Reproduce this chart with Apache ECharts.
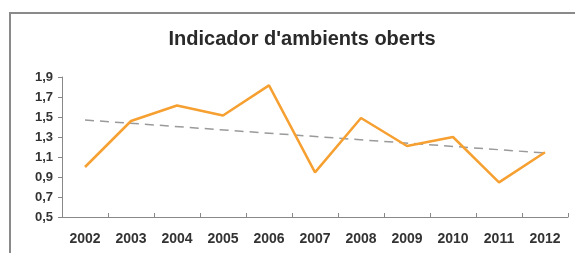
<!DOCTYPE html>
<html>
<head>
<meta charset="utf-8">
<script src="https://cdn.jsdelivr.net/npm/echarts@6/dist/echarts.min.js"></script>
<style>
  html, body { margin: 0; padding: 0; background: #fff; }
  #chart { width: 575px; height: 253px; }
</style>
</head>
<body>
<div id="chart"></div>
<script>
// anys
var years = ['2002', '2003', '2004', '2005', '2006', '2007', '2008', '2009', '2010', '2011', '2012'];
// valors de l'indicador
var indicador = [1.0, 1.46, 1.615, 1.515, 1.816, 0.946, 1.49, 1.21, 1.30, 0.846, 1.147];
// línia de tendència (extrems llegits del gràfic)
var tendencia = [['2002', 1.47], ['2012', 1.14]];
// eix Y
var yMin = 0.5, yMax = 1.9, yStep = 0.2;

var myChart = echarts.init(document.getElementById('chart'));

var option = {
  animation: false,
  title: {
    text: "Indicador d'ambients oberts",
    left: 297,
    textAlign: 'center',
    top: 24,
    textStyle: {
      fontFamily: 'Liberation Sans, Arial, sans-serif',
      fontSize: 20,
      fontWeight: 'bold',
      color: '#2a2a2a'
    }
  },
  graphic: [
    {
      type: 'polyline',
      shape: { points: [[10, 253], [10, 13], [575, 13]] },
      style: { stroke: '#8a8a8a', lineWidth: 2, fill: null }
    }
  ],
  grid: { left: 62, right: 7, top: 77, bottom: 36 },
  xAxis: {
    type: 'category',
    data: years,
    boundaryGap: true,
    axisLine: { lineStyle: { color: '#888', width: 1 } },
    axisTick: { show: true, length: 4, inside: true, lineStyle: { color: '#888' } },
    axisLabel: {
      margin: 15,
      fontFamily: 'Liberation Sans, Arial, sans-serif',
      fontSize: 14,
      fontWeight: 'bold',
      color: '#333'
    }
  },
  yAxis: {
    type: 'value',
    min: yMin,
    max: yMax,
    interval: yStep,
    splitLine: { show: false },
    axisLine: { show: true, lineStyle: { color: '#888', width: 1 } },
    axisTick: { show: true, length: 4, lineStyle: { color: '#888' } },
    axisLabel: {
      margin: 9,
      fontFamily: 'Liberation Sans, Arial, sans-serif',
      fontSize: 13,
      fontWeight: 'bold',
      color: '#333',
      formatter: function (v) {
        return v.toFixed(1).replace('.', ',');
      }
    }
  },
  series: [
    {
      name: 'tendencia',
      type: 'line',
      data: tendencia,
      showSymbol: false,
      silent: true,
      lineStyle: { color: '#9a9a9a', width: 1.5, type: [9, 6] },
      z: 1
    },
    {
      name: 'indicador',
      type: 'line',
      data: indicador,
      showSymbol: false,
      lineStyle: { color: '#f6a032', width: 2.5 },
      z: 2
    }
  ]
};

myChart.setOption(option);
</script>
</body>
</html>
